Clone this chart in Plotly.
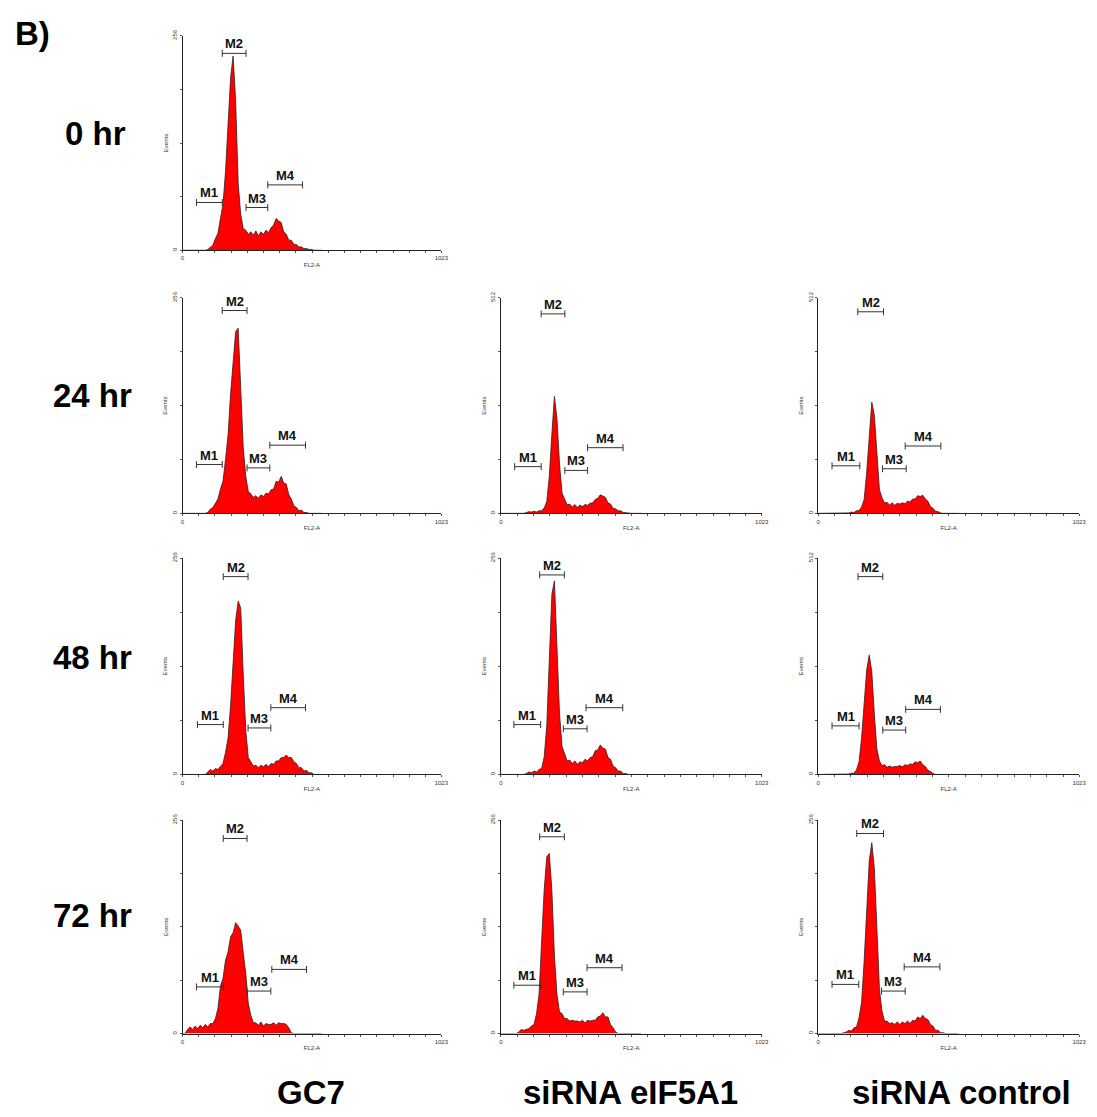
import plotly.graph_objects as go

# FL2-A channel grid (bin starts) shared by every histogram
channels = list(range(0, 560, 10))

# Events per channel bin, one list per panel
gc7_0h = [0, 0, 0, 0, 0, 0, 0, 0, 0, 0, 1, 4, 6, 14, 20, 38, 55, 94, 146, 206,
          232, 178, 80, 43, 26, 24, 19, 22, 18, 23, 17, 22, 19, 24, 21, 27, 30, 38, 35, 33,
          22, 19, 12, 12, 7, 7, 4, 4, 2, 2, 1, 1, 0, 0, 0, 0]
gc7_24h = [0, 0, 0, 0, 0, 0, 0, 0, 0, 0, 1, 5, 7, 13, 17, 29, 38, 64, 93, 142,
           183, 216, 220, 152, 78, 44, 26, 23, 19, 21, 18, 22, 20, 24, 23, 28, 29, 38, 37, 44,
           36, 35, 22, 17, 9, 7, 3, 4, 1, 1, 0, 0, 0, 0, 0, 0]
gc7_48h = [0, 0, 0, 0, 0, 0, 0, 0, 0, 0, 3, 6, 4, 7, 6, 10, 13, 26, 43, 82,
           128, 182, 205, 197, 118, 52, 20, 15, 10, 11, 8, 11, 9, 12, 9, 13, 12, 16, 16, 20,
           20, 23, 20, 20, 15, 13, 8, 8, 4, 5, 2, 2, 0, 0, 0, 0]
gc7_72h = [0, 0, 5, 8, 5, 9, 6, 10, 7, 11, 8, 12, 12, 18, 30, 57, 66, 88, 98, 116,
           121, 133, 129, 124, 97, 72, 36, 22, 13, 13, 10, 14, 9, 12, 11, 11, 13, 10, 13, 12,
           12, 11, 7, 1, 0, 0, 0, 0, 0, 0, 0, 0, 0, 0, 0, 0]
sie_24h = [0, 0, 0, 0, 0, 0, 0, 0, 0, 0, 2, 4, 3, 5, 3, 6, 6, 13, 28, 88,
           188, 278, 225, 118, 48, 32, 20, 22, 15, 21, 14, 20, 16, 21, 19, 24, 25, 33, 36, 44,
           41, 38, 25, 22, 12, 11, 6, 6, 2, 2, 1, 0, 0, 0, 0, 0]
sie_48h = [0, 0, 0, 0, 0, 0, 0, 0, 0, 0, 1, 3, 2, 4, 3, 6, 7, 21, 58, 142,
           213, 229, 148, 72, 33, 24, 16, 17, 13, 16, 12, 15, 14, 18, 16, 20, 21, 28, 29, 35,
           31, 30, 20, 18, 10, 8, 4, 4, 1, 1, 0, 0, 0, 0, 0, 0]
sie_72h = [0, 0, 0, 0, 0, 0, 0, 2, 5, 4, 5, 6, 9, 11, 24, 48, 112, 173, 212, 216,
           172, 93, 47, 26, 24, 18, 18, 15, 16, 15, 15, 14, 16, 13, 16, 15, 16, 16, 20, 21,
           25, 20, 20, 11, 7, 2, 0, 0, 0, 0, 0, 0, 0, 0, 0, 0]
ctl_24h = [0, 0, 0, 0, 0, 0, 0, 0, 0, 0, 0, 0, 1, 3, 2, 6, 7, 15, 33, 97,
           188, 264, 233, 132, 56, 37, 25, 26, 20, 25, 19, 24, 22, 25, 23, 29, 27, 34, 34, 42,
           40, 43, 34, 29, 16, 12, 5, 4, 1, 0, 0, 0, 0, 0, 0, 0]
ctl_48h = [0, 0, 0, 0, 0, 0, 0, 0, 0, 0, 0, 0, 1, 3, 3, 11, 30, 87, 158, 247,
           283, 243, 142, 60, 32, 21, 23, 17, 20, 17, 19, 19, 21, 18, 23, 21, 25, 24, 30, 28,
           32, 23, 19, 10, 7, 2, 0, 0, 0, 0, 0, 0, 0, 0, 0, 0]
ctl_72h = [0, 0, 0, 0, 0, 0, 0, 0, 0, 0, 1, 2, 4, 3, 7, 8, 19, 38, 87, 148,
           207, 229, 198, 127, 53, 27, 15, 15, 12, 13, 11, 14, 11, 14, 12, 15, 12, 16, 15, 20,
           18, 22, 18, 17, 11, 9, 4, 4, 1, 1, 0, 0, 0, 0, 0, 0]

# Marker gates: (name, start channel, end channel, events level)
gates_gc7_0h = [("M1", 55, 157, 57), ("M2", 157, 251, 235), ("M3", 251, 337, 51), ("M4", 337, 474, 78)]
gates_gc7_24h = [("M1", 55, 157, 58), ("M2", 157, 255, 241), ("M3", 255, 345, 54), ("M4", 345, 486, 81)]
gates_gc7_48h = [("M1", 59, 161, 59), ("M2", 161, 259, 234), ("M3", 259, 349, 55), ("M4", 349, 486, 79)]
gates_gc7_72h = [("M1", 55, 161, 56), ("M2", 161, 255, 234), ("M3", 255, 349, 51), ("M4", 353, 490, 77)]
gates_sie_24h = [("M1", 54, 158, 111), ("M2", 158, 251, 474), ("M3", 251, 340, 102), ("M4", 340, 479, 156)]
gates_sie_48h = [("M1", 51, 156, 59), ("M2", 152, 249, 236), ("M3", 245, 338, 54), ("M4", 334, 478, 79)]
gates_sie_72h = [("M1", 51, 156, 58), ("M2", 152, 249, 236), ("M3", 245, 338, 50), ("M4", 338, 475, 79)]
gates_ctl_24h = [("M1", 54, 163, 113), ("M2", 155, 256, 479), ("M3", 252, 345, 106), ("M4", 341, 481, 160)]
gates_ctl_48h = [("M1", 54, 160, 115), ("M2", 156, 253, 468), ("M3", 253, 343, 105), ("M4", 343, 479, 154)]
gates_ctl_72h = [("M1", 54, 159, 59), ("M2", 151, 256, 240), ("M3", 248, 341, 51), ("M4", 337, 477, 80)]

row_labels = ["0 hr", "24 hr", "48 hr", "72 hr"]
col_labels = ["GC7", "siRNA eIF5A1", "siRNA control"]

# (row, column, y-axis maximum, counts, gates)
panels = [
    (0, 0, 256, gc7_0h, gates_gc7_0h),
    (1, 0, 256, gc7_24h, gates_gc7_24h),
    (1, 1, 512, sie_24h, gates_sie_24h),
    (1, 2, 512, ctl_24h, gates_ctl_24h),
    (2, 0, 256, gc7_48h, gates_gc7_48h),
    (2, 1, 256, sie_48h, gates_sie_48h),
    (2, 2, 512, ctl_48h, gates_ctl_48h),
    (3, 0, 256, gc7_72h, gates_gc7_72h),
    (3, 1, 256, sie_72h, gates_sie_72h),
    (3, 2, 256, ctl_72h, gates_ctl_72h),
]

W, H = 1097, 1117
col_px = [(182, 443), (503, 766), (823, 1086)]
row_px = [(29, 245), (293, 510), (555, 773), (819, 1034)]
FONT = "Liberation Sans, Arial, sans-serif"

fig = go.Figure()
layout = dict(width=W, height=H, margin=dict(l=0, r=0, t=0, b=0),
              paper_bgcolor="white", plot_bgcolor="white", showlegend=False)
annotations = []

for k, (r, c, ymax, counts, gates) in enumerate(panels):
    n = "" if k == 0 else str(k + 1)
    xa, ya = "x" + n, "y" + n
    x0, x1 = col_px[c]
    top, bot = row_px[r]
    layout["xaxis" + n] = dict(
        domain=[x0 / W, x1 / W], range=[0, 1023], anchor=ya,
        showline=True, linecolor="#222", linewidth=1, showgrid=False, zeroline=False,
        tickmode="array", tickvals=[0] + list(range(64, 1023, 64)) + [1023],
        ticktext=["0"] + [""] * 15 + ["1023"],
        ticks="outside", ticklen=2, tickcolor="#555", tickwidth=1,
        tickfont=dict(family=FONT, size=6, color="#333"),
        title=dict(text="FL2-A", font=dict(family=FONT, size=6, color="#333"), standoff=2),
        fixedrange=True)
    layout["yaxis" + n] = dict(
        domain=[1 - bot / H, 1 - top / H], range=[0, ymax], anchor=xa,
        showline=True, linecolor="#222", linewidth=1, showgrid=False, zeroline=False,
        tickmode="array", tickvals=[0, ymax / 4, ymax / 2, 3 * ymax / 4, ymax],
        ticktext=["0", "", "", "", str(ymax)], tickangle=-90,
        ticks="outside", ticklen=2, tickcolor="#555", tickwidth=1,
        tickfont=dict(family=FONT, size=6, color="#333"),
        title=dict(text="Events", font=dict(family=FONT, size=6, color="#333"), standoff=3),
        fixedrange=True)

    # filled DNA-content histogram
    fig.add_trace(go.Scatter(x=channels, y=counts, xaxis=xa, yaxis=ya, mode="lines",
                             fill="tozeroy", fillcolor="#ff0000",
                             line=dict(color="#3a1a1a", width=0.8), hoverinfo="skip"))

    # marker gates with end ticks and labels
    for name, g0, g1, lvl in gates:
        fig.add_trace(go.Scatter(x=[g0, g1], y=[lvl, lvl], xaxis=xa, yaxis=ya,
                                 mode="lines+markers",
                                 line=dict(color="#333", width=1),
                                 marker=dict(symbol="line-ns", size=5,
                                             line=dict(color="#333", width=1)),
                                 hoverinfo="skip"))
        annotations.append(dict(x=(g0 + g1) / 2, y=lvl, xref=xa, yref=ya, text="<b>" + name + "</b>",
                                showarrow=False, xanchor="center", yanchor="bottom", yshift=0,
                                font=dict(family=FONT, size=13, color="#111")))

# panel letter, time-point and treatment labels
annotations.append(dict(x=31 / W, y=1 - 27 / H, xref="paper", yref="paper", text="<b>B)</b>",
                        showarrow=False, xanchor="center", yanchor="middle",
                        font=dict(family=FONT, size=33, color="black")))
for label, yc, xc in zip(row_labels, [127, 391, 655, 915], [94, 91, 91, 91]):
    annotations.append(dict(x=xc / W, y=1 - yc / H, xref="paper", yref="paper",
                            text="<b>" + label + "</b>", showarrow=False,
                            xanchor="center", yanchor="middle",
                            font=dict(family=FONT, size=33, color="black")))
for label, xc in zip(col_labels, [312, 634, 967]):
    annotations.append(dict(x=xc / W, y=1 - 1093 / H, xref="paper", yref="paper",
                            text="<b>" + label + "</b>", showarrow=False,
                            xanchor="center", yanchor="middle",
                            font=dict(family=FONT, size=33, color="black")))

layout["annotations"] = annotations
fig.update_layout(**layout)
fig.write_html("out.html")
